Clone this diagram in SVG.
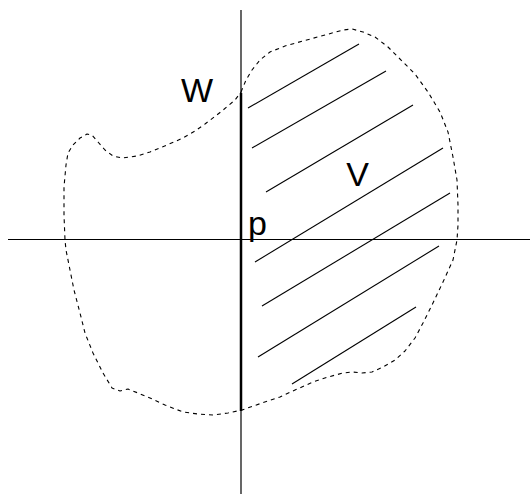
<svg xmlns="http://www.w3.org/2000/svg" width="530" height="494" viewBox="0 0 530 494">
<style>
.axis{stroke:#000;stroke-width:1.2;fill:none}
.thick{stroke:#000;stroke-width:2.5;fill:none}
.hatch{stroke:#000;stroke-width:1.1;fill:none}
.region{stroke:#000;stroke-width:1.1;fill:none;stroke-dasharray:4 4;stroke-linejoin:round}
.lbl{font-family:"Liberation Sans",Arial,sans-serif;font-size:34px;fill:#000}
</style>
<rect width="530" height="494" fill="#fff"/>
<g id="region">
<path class="region" d="M241,92 L246,80 L252,70 L260,60 L270,52 L285,46 L303,41 L325,35 L343,30 L352,29 L363,32 L375,37 L388,47 L403,62 L415,74 L428,92 L440,112 L448,132 L453,157 L457,180 L458,205 L458,225 L457,240 L453,260 L443,282 L432,305 L423,323 L415,338 L405,351 L395,360 L383,367 L372,372 L362,373 L352,372 L343,373 L328,377 L313,382 L295,390 L280,397 L262,403 L242,410 L228,413 L213,415 L198,414 L183,412 L165,405 L150,398 L138,393 L128,389 L120,391 L112,388 L103,373 L93,353 L85,333 L80,313 L74,290 L70,270 L66,250 L65,240 L64,215 L64,187 L66,165 L68,153 L73,145 L80,138 L87,134 L92,135 L98,142 L105,150 L113,156 L122,158 L137,156 L150,152 L167,145 L183,138 L195,131 L205,124 L222,111 L235,100 Z"/>
</g>
<g id="hatching">
<line class="hatch" x1="248" y1="108" x2="359" y2="44"/>
<line class="hatch" x1="252" y1="148" x2="386" y2="71"/>
<line class="hatch" x1="266" y1="192" x2="413" y2="105"/>
<line class="hatch" x1="255" y1="262" x2="443" y2="148"/>
<line class="hatch" x1="262" y1="306" x2="450" y2="193"/>
<line class="hatch" x1="258" y1="357" x2="439" y2="246"/>
<line class="hatch" x1="292" y1="384" x2="416" y2="307"/>
</g>
<g id="axes">
<line class="axis" x1="8" y1="239.5" x2="530" y2="239.5"/>
<line class="axis" x1="241" y1="10" x2="241" y2="494"/>
</g>
<g id="W">
<line class="thick" x1="241" y1="93" x2="241" y2="411"/>
<text class="lbl" x="197" y="102" text-anchor="middle">W</text>
</g>
<g id="V"><text class="lbl" x="357.5" y="186" text-anchor="middle">V</text></g>
<g id="p"><text class="lbl" x="248" y="235">p</text></g>
</svg>
